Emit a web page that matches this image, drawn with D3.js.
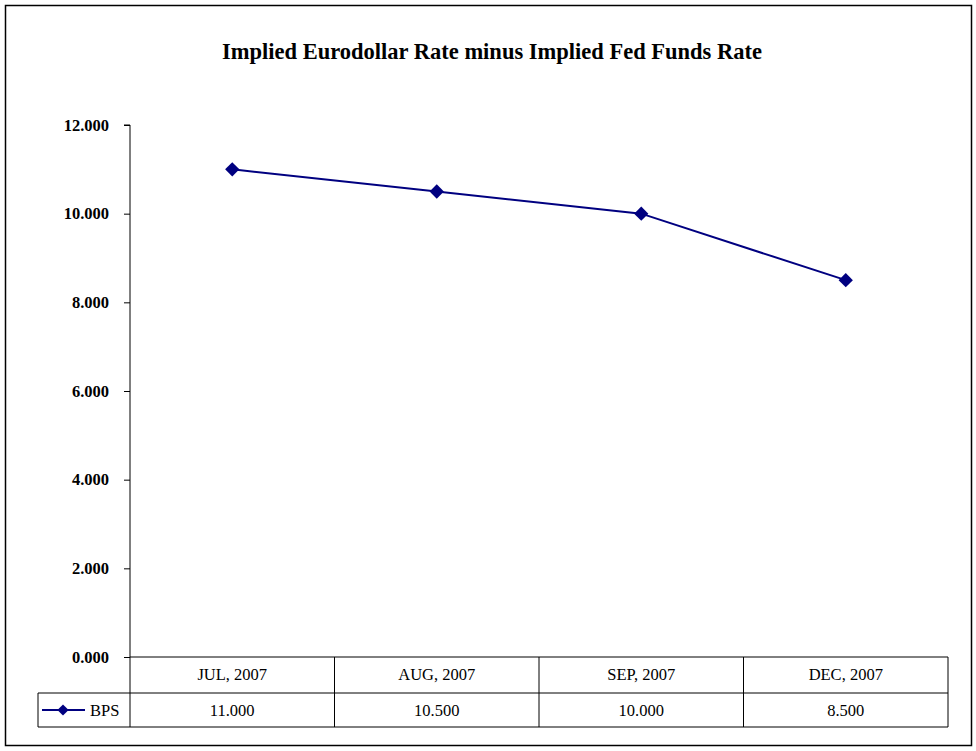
<!DOCTYPE html>
<html>
<head>
<meta charset="utf-8">
<script src="https://cdn.jsdelivr.net/npm/d3@7"></script>
<style>
body { margin: 0; background: #fff; }
</style>
</head>
<body>
<script>
var categories = ["JUL, 2007", "AUG, 2007", "SEP, 2007", "DEC, 2007"];
var bps = [11.0, 10.5, 10.0, 8.5];
var yTicks = [0, 2, 4, 6, 8, 10, 12];
var seriesName = "BPS";

var w = 976, h = 751;
var plotLeft = 130, plotRight = 948, plotTop = 125, plotBottom = 657;
var rowH = 35;
var serif = "'Liberation Serif', 'DejaVu Serif', serif";
var navy = "#000080";

var svg = d3.select("body").append("svg")
    .attr("width", w)
    .attr("height", h);

// outer frame
svg.append("rect")
    .attr("x", 5.5).attr("y", 5.5)
    .attr("width", 966).attr("height", 740)
    .attr("fill", "none")
    .attr("stroke", "#000")
    .attr("stroke-width", 1.5);

svg.append("text")
    .text("Implied Eurodollar Rate minus Implied Fed Funds Rate")
    .attr("x", 492)
    .attr("y", 59)
    .attr("text-anchor", "middle")
    .attr("font-family", serif)
    .attr("font-weight", "bold")
    .attr("font-size", "22.5px");

var x = d3.scaleBand().domain(categories).range([plotLeft, plotRight]);
var y = d3.scaleLinear().domain([0, 12]).range([plotBottom, plotTop]);

var yAxis = svg.append("g")
    .attr("transform", "translate(" + plotLeft + ",0)")
    .call(d3.axisLeft(y).tickValues(yTicks).tickSize(6).tickPadding(15)
        .tickFormat(d3.format(".3f")));
yAxis.selectAll("path, line").attr("stroke", "#000");
yAxis.selectAll("text")
    .attr("font-family", serif)
    .attr("font-weight", "bold")
    .attr("font-size", "16.5px")
    .attr("fill", "#000");
yAxis.select(".domain").attr("d", "M-6," + plotTop + "H0V" + plotBottom);

// data table
var tbl = svg.append("g").attr("stroke", "#000").attr("stroke-width", 1).attr("fill", "none");
tbl.append("line").attr("x1", plotLeft).attr("x2", plotRight).attr("y1", plotBottom).attr("y2", plotBottom);
tbl.append("line").attr("x1", 38).attr("x2", plotRight).attr("y1", plotBottom + rowH + 1).attr("y2", plotBottom + rowH + 1);
tbl.append("line").attr("x1", 38).attr("x2", plotRight).attr("y1", plotBottom + 2 * rowH).attr("y2", plotBottom + 2 * rowH);
tbl.append("line").attr("x1", 38).attr("x2", 38).attr("y1", plotBottom + rowH + 1).attr("y2", plotBottom + 2 * rowH);
tbl.selectAll("line.col")
    .data(categories)
    .enter().append("line")
    .attr("class", "col")
    .attr("x1", function(d) { return x(d) + x.bandwidth(); })
    .attr("x2", function(d) { return x(d) + x.bandwidth(); })
    .attr("y1", plotBottom)
    .attr("y2", plotBottom + 2 * rowH);
tbl.append("line").attr("x1", plotLeft).attr("x2", plotLeft).attr("y1", plotBottom).attr("y2", plotBottom + 2 * rowH);

svg.selectAll("text.cat")
    .data(categories)
    .enter().append("text")
    .attr("class", "cat")
    .text(function(d) { return d; })
    .attr("x", function(d) { return x(d) + x.bandwidth() / 2; })
    .attr("y", plotBottom + 23)
    .attr("text-anchor", "middle")
    .attr("font-family", serif)
    .attr("font-size", "16.5px");

svg.selectAll("text.val")
    .data(bps)
    .enter().append("text")
    .attr("class", "val")
    .text(function(d) { return d3.format(".3f")(d); })
    .attr("x", function(d, i) { return x(categories[i]) + x.bandwidth() / 2; })
    .attr("y", plotBottom + rowH + 24)
    .attr("text-anchor", "middle")
    .attr("font-family", serif)
    .attr("font-size", "16.5px");

// series line
var line = d3.line()
    .x(function(d, i) { return x(categories[i]) + x.bandwidth() / 2; })
    .y(function(d) { return y(d); });

svg.append("path")
    .datum(bps)
    .attr("d", line)
    .attr("fill", "none")
    .attr("stroke", navy)
    .attr("stroke-width", 2);

var diamond = d3.symbol().type(d3.symbolDiamond2).size(130);
svg.selectAll("path.pt")
    .data(bps)
    .enter().append("path")
    .attr("class", "pt")
    .attr("d", diamond)
    .attr("transform", function(d, i) {
        return "translate(" + (x(categories[i]) + x.bandwidth() / 2) + "," + y(d) + ")";
    })
    .attr("fill", navy);

// legend key inside the table
var ly = plotBottom + rowH + 18;
svg.append("line")
    .attr("x1", 42).attr("x2", 85).attr("y1", ly).attr("y2", ly)
    .attr("stroke", navy).attr("stroke-width", 2);
svg.append("path")
    .attr("d", d3.symbol().type(d3.symbolDiamond2).size(80))
    .attr("transform", "translate(63," + ly + ")")
    .attr("fill", navy);
svg.append("text")
    .text(seriesName)
    .attr("x", 90)
    .attr("y", ly + 6)
    .attr("font-family", serif)
    .attr("font-size", "16.5px");
</script>
</body>
</html>
